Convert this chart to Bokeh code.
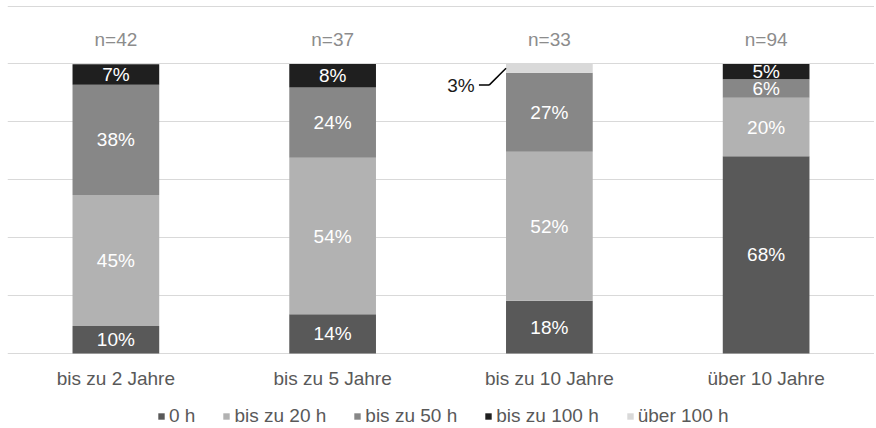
from bokeh.plotting import figure
from bokeh.models import ColumnDataSource, Grid, FixedTicker, Legend, LegendItem
from bokeh.transform import dodge
from bokeh.core.properties import value
from bokeh.embed import file_html
from bokeh.resources import INLINE

# ---- data ----
categories = ["bis zu 2 Jahre", "bis zu 5 Jahre", "bis zu 10 Jahre", "über 10 Jahre"]
n_values = [42, 37, 33, 94]
series_names = ["0 h", "bis zu 20 h", "bis zu 50 h", "bis zu 100 h", "über 100 h"]
h0 = [9.5, 13.5, 18.2, 68.1]
h20 = [45.2, 54.1, 51.5, 20.2]
h50 = [38.1, 24.3, 27.3, 6.4]
h100 = [7.1, 8.1, 0.0, 5.3]
h_over100 = [0.0, 0.0, 3.0, 0.0]
grid_ticks = [0, 20, 40, 60, 80, 100, 120]

series = [h0, h20, h50, h100, h_over100]
colors = ["#595959", "#b2b2b2", "#878787", "#1f1f1f", "#d9d9d9"]
keys = ["s0", "s1", "s2", "s3", "s4"]

FONT = "Liberation Sans"
FS = "19px"

# frame reaches the bottom of the canvas: category labels and legend live below y=0
p = figure(x_range=categories, y_range=(-25.6, 120.2),
           frame_width=867, frame_height=422,
           min_border_left=7, min_border_right=0, min_border_top=5, min_border_bottom=0,
           x_axis_location=None, y_axis_location=None,
           toolbar_location=None, output_backend="svg")
p.outline_line_color = None
p.x_range.range_padding = 0
for g in p.grid:
    g.visible = False
p.add_layout(Grid(dimension=1, ticker=FixedTicker(ticks=grid_ticks),
                  grid_line_color="#d9d9d9", grid_line_width=1))

data = {"cat": categories}
for k, s in zip(keys, series):
    data[k] = s
src = ColumnDataSource(data)
renderers = p.vbar_stack(keys, x="cat", width=0.4, source=src,
                         fill_color=colors, line_color=None)

# segment labels
lab_x, lab_y, lab_t = [], [], []
out_x, out_y, out_t, lead_y0 = [], [], [], []
for i, c in enumerate(categories):
    base = 0.0
    for j, s in enumerate(series):
        v = s[i]
        if v > 0:
            mid = base + v / 2
            if j < 4:
                lab_x.append(c); lab_y.append(mid); lab_t.append(f"{round(v)}%")
            else:
                out_x.append(c); out_y.append(mid - 5.8); out_t.append(f"{round(v)}%")
                lead_y0.append(mid)
        base += v

p.text(x="x", y="y", text="t", source=ColumnDataSource(dict(x=lab_x, y=lab_y, t=lab_t)),
       text_align="center", text_baseline="middle", text_color="#ffffff",
       text_font=value(FONT), text_font_size=FS)

osrc = ColumnDataSource(dict(x=out_x, y=out_y, t=out_t, y0=lead_y0))
p.segment(x0=dodge("x", -0.2, range=p.x_range), y0="y0",
          x1=dodge("x", -0.278, range=p.x_range), y1="y",
          source=osrc, line_color="#000000", line_width=1.5)
p.segment(x0=dodge("x", -0.278, range=p.x_range), y0="y",
          x1=dodge("x", -0.325, range=p.x_range), y1="y",
          source=osrc, line_color="#000000", line_width=1.5)
p.text(x=dodge("x", -0.345, range=p.x_range), y="y", text="t", source=osrc,
       text_align="right", text_baseline="middle", text_color="#1a1a1a",
       text_font=value(FONT), text_font_size=FS)

# n labels
p.text(x="x", y="y", text="t",
       source=ColumnDataSource(dict(x=categories, y=[108.5] * len(categories),
                                    t=[f"n={n}" for n in n_values])),
       text_align="center", text_baseline="middle", text_color="#8c8c8c",
       text_font=value(FONT), text_font_size=FS)

# category labels (below the zero line)
p.text(x="x", y="y", text="t",
       source=ColumnDataSource(dict(x=categories, y=[-8.6] * len(categories), t=categories)),
       text_align="center", text_baseline="middle", text_color="#595959",
       text_font=value(FONT), text_font_size=FS)

legend = Legend(items=[LegendItem(label=n, renderers=[r]) for n, r in zip(series_names, renderers)],
                orientation="horizontal", location=(150, 0),
                glyph_width=8, glyph_height=8, label_standoff=4, spacing=27,
                padding=0, margin=0, border_line_color=None, background_fill_alpha=0,
                label_text_font=FONT, label_text_font_size=FS,
                label_text_color="#595959")
p.add_layout(legend, "center")

open("out.html", "w").write(file_html(p, INLINE))
